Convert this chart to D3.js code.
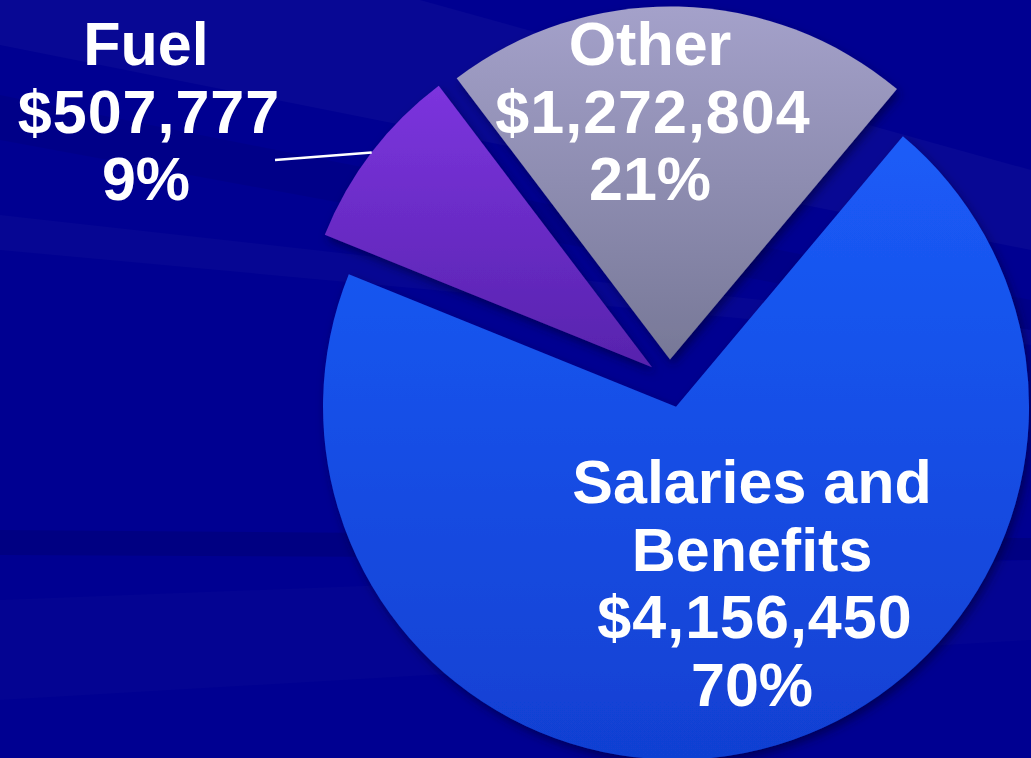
<!DOCTYPE html>
<html>
<head>
<meta charset="utf-8">
<script src="https://cdn.jsdelivr.net/npm/d3@7"></script>
<style>
  body { margin: 0; overflow: hidden; background: #000091; }
  text { font-family: "Liberation Sans", Arial, sans-serif; font-weight: bold; fill: #fff; }
</style>
</head>
<body>
<svg width="1031" height="758"></svg>
<script>
// data
const categories = ['Salaries and Benefits', 'Fuel', 'Other'];
const nameLines = [['Salaries and', 'Benefits'], ['Fuel'], ['Other']];
const amounts = [4156450, 507777, 1272804];
const percentLabels = ['70%', '9%', '21%'];

const svg = d3.select('svg');
const width = +svg.attr('width');
const height = +svg.attr('height');

// styling / layout
const center = {x: 669.5, y: 380.5};
const radius = 353;
const explode = [27, 22, 21];
const fontSize = 61;
const lineHeight = 67.5;
const labelPos = [
  {x: 752, y: 503},
  {x: 146, y: 65},
  {x: 650, y: 65}
];
const leaderEnd = [275, 160];
const sliceColors = [
  ['#1b5cf8', '#1140d2'],
  ['#7c34de', '#5723ad'],
  ['#a4a1ca', '#777897']
];

const defs = svg.append('defs');

sliceColors.forEach((c, i) => {
  const grad = defs.append('linearGradient')
    .attr('id', 'grad' + i)
    .attr('x1', 0).attr('y1', 0).attr('x2', 0).attr('y2', 1);
  grad.append('stop').attr('offset', '0%').attr('stop-color', c[0]);
  grad.append('stop').attr('offset', '100%').attr('stop-color', c[1]);
});

const shadow = defs.append('filter')
  .attr('id', 'shadow')
  .attr('x', '-20%').attr('y', '-20%')
  .attr('width', '140%').attr('height', '140%');
shadow.append('feDropShadow')
  .attr('dx', 3).attr('dy', 5)
  .attr('stdDeviation', 5)
  .attr('flood-color', '#000030')
  .attr('flood-opacity', 0.55);

// background with faint streaks
svg.append('rect')
  .attr('width', width)
  .attr('height', height)
  .attr('fill', '#000091');

const bands = [
  {d: 'M0,0 L420,0 L1031,170 L1031,250 L0,45 Z', fill: '#ffffff', op: 0.03},
  {d: 'M0,95 L1031,300 L1031,330 L0,140 Z', fill: '#000000', op: 0.06},
  {d: 'M0,215 L1031,330 L1031,345 L0,250 Z', fill: '#ffffff', op: 0.022},
  {d: 'M0,530 L1031,538 L1031,560 L0,555 Z', fill: '#000000', op: 0.1},
  {d: 'M0,600 L1031,560 L1031,640 L0,700 Z', fill: '#ffffff', op: 0.015}
];
svg.append('g').selectAll('path').data(bands)
  .enter().append('path')
    .attr('d', d => d.d)
    .attr('fill', d => d.fill)
    .attr('fill-opacity', d => d.op);

const pie = d3.pie()
  .sort(null)
  .startAngle(40 * Math.PI / 180)
  .endAngle(40 * Math.PI / 180 + 2 * Math.PI);

const arc = d3.arc()
  .innerRadius(0)
  .outerRadius(radius);

const arcs = pie(amounts);

const offsetOf = (d, i) => {
  const mid = (d.startAngle + d.endAngle) / 2;
  return [center.x + explode[i] * Math.sin(mid), center.y - explode[i] * Math.cos(mid)];
};

const g = svg.append('g');

g.selectAll('path.slice').data(arcs)
  .enter().append('path')
    .attr('class', 'slice')
    .attr('transform', (d, i) => `translate(${offsetOf(d, i)})`)
    .attr('d', arc)
    .attr('fill', (d, i) => `url(#grad${i})`)
    .attr('filter', 'url(#shadow)');

// leader line for Fuel
const fuel = arcs[1];
const fuelMid = (fuel.startAngle + fuel.endAngle) / 2;
const fuelOrigin = offsetOf(fuel, 1);
g.append('line')
  .attr('x1', fuelOrigin[0] + radius * Math.sin(fuelMid))
  .attr('y1', fuelOrigin[1] - radius * Math.cos(fuelMid))
  .attr('x2', leaderEnd[0])
  .attr('y2', leaderEnd[1])
  .attr('stroke', '#fff')
  .attr('stroke-width', 2.5);

// labels
const fmt = d3.format('$,');
categories.forEach((name, i) => {
  const lines = nameLines[i].concat([fmt(amounts[i]), percentLabels[i]]);
  const t = g.append('text')
    .attr('text-anchor', 'middle')
    .attr('font-size', fontSize);
  lines.forEach((ln, j) => {
    // digits in the reference run a little wider
    const isNumber = ln.startsWith('$');
    t.append('tspan')
      .attr('x', labelPos[i].x + (isNumber ? 3 : 0))
      .attr('y', labelPos[i].y + j * lineHeight)
      .attr('letter-spacing', isNumber ? 1 : 0)
      .text(ln);
  });
});
</script>
</body>
</html>
